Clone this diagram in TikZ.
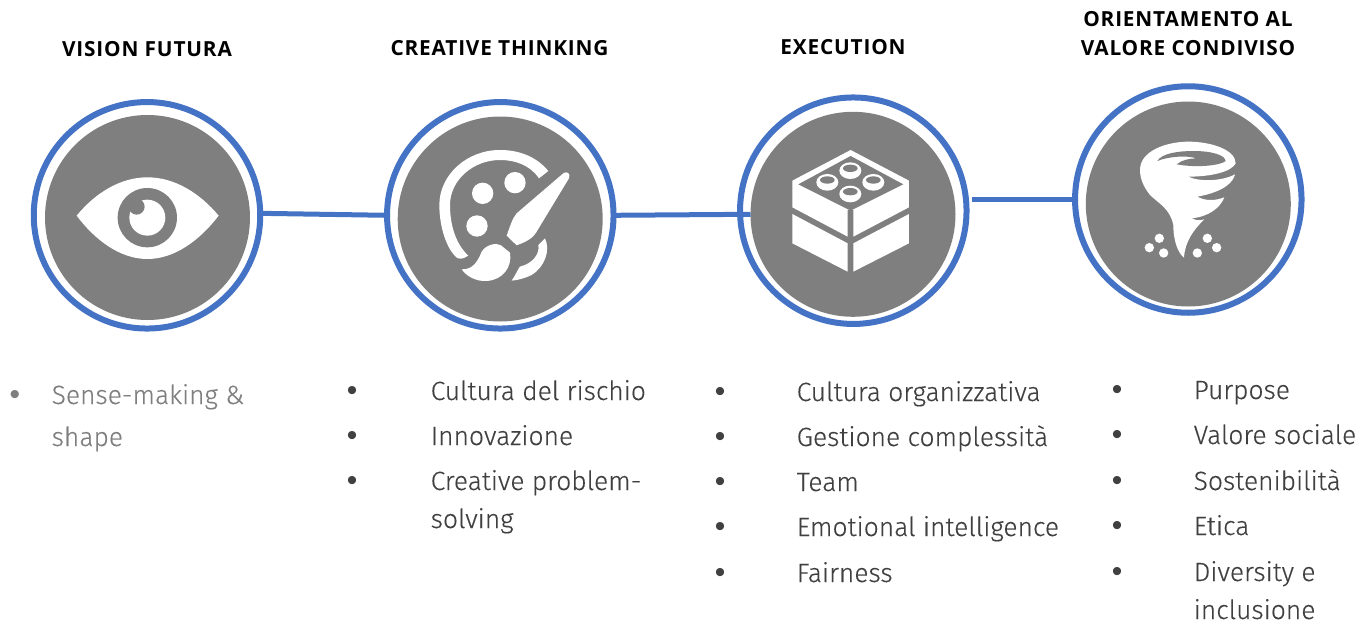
\documentclass[tikz,border=0pt]{standalone}
\usepackage{fontspec}
\setmainfont{Fira Sans}[UprightFont=* Light,UprightFeatures={FakeBold=0.25}]
\newfontfamily\headfont{Open Sans}[BoldFont=* Bold,LetterSpace=4]
\newfontfamily\dotfont{Liberation Sans}
\definecolor{ringblue}{HTML}{4472C4}
\definecolor{discgray}{HTML}{7F7F7F}
\definecolor{itemgray}{HTML}{404040}
\tikzset{
	ringnode/.style={circle,draw=ringblue,line width=6pt,minimum size=226.5pt,inner sep=0pt,outer sep=0pt},
	discnode/.style={circle,fill=discgray,minimum size=205pt,inner sep=0pt,outer sep=0pt},
	linkline/.style={ringblue,line width=5pt},
	headlabel/.style={font=\headfont\bfseries\fontsize{20.8}{20.8}\selectfont,text=black,anchor=base},
	itemlabel/.style={font=\fontsize{26.4}{26.4}\selectfont,text=itemgray,anchor=base west,inner sep=0pt},
	itemdot/.style={font=\dotfont\fontsize{30}{30}\selectfont,text=itemgray,anchor=base,inner sep=0pt},
	icon/.style={x=0.3333pt,y=-0.3333pt}
}
\begin{document}
\begin{tikzpicture}[x=1pt,y=-1pt]
	\useasboundingbox (0,0) rectangle (1363,624);
	% circles
	\node [ringnode] (visionring) at (147,215.3) {};\node [discnode] (visiondisc) at (147.5,217.5) {};
	\node [ringnode] (creativering) at (500.3,215.3) {};\node [discnode] (creativedisc) at (500.2,219) {};
	\node [ringnode] (executionring) at (853.3,210.7) {};\node [discnode] (executiondisc) at (853,214.3) {};
	\node [ringnode] (valorering) at (1188.3,199.5) {};\node [discnode] (valoredisc) at (1188.3,204) {};
	% links
	\coordinate (executionout) at (971.5,199.5);
	\draw [linkline] (visionring.1.5) -- (creativering.180);
	\draw [linkline] (creativering.0) -- (executiondisc.180);
	\draw [linkline] (executionout) -- (valorering.180);
	% eye
	\begin{scope}[shift={(20,90)},icon]
		\fill [white] (170,377) .. controls (225,310) and (300,262) .. (382,262) .. controls (465,262) and (540,310) .. (596,377) .. controls (540,450) and (465,507) .. (382,507) .. controls (300,507) and (225,450) .. (170,377) -- cycle;
		\fill [discgray] (382,383) circle [radius=89];
		\fill [white] (382,383) circle [radius=54];
		\fill [discgray] (350,350) circle [radius=24];
	\end{scope}
	% palette
	\begin{scope}[shift={(375,90)},icon]
		\fill [white] (520,243) .. controls (480,195) and (425,180) .. (375,180) .. controls (275,180) and (193,255) .. (193,345) .. controls (193,410) and (215,480) .. (248,505) .. controls (262,508) and (272,503) .. (280,497) .. controls (245,465) and (225,410) .. (225,345) .. controls (225,270) and (295,210) .. (375,210) .. controls (420,210) and (465,225) .. (492,265) -- cycle;
		\fill [white] (323,310) circle [radius=32];
		\fill [white] (420,278) circle [radius=32];
		\fill [white] (306,408) circle [radius=32];
		\fill [white] (565,250) -- (425,370) .. controls (412,385) and (405,410) .. (395,437) -- (425,466) .. controls (455,455) and (475,445) .. (488,420) -- (582,265) .. controls (588,250) and (575,242) .. (565,250) -- cycle;
		\fill [white] (260,538) .. controls (295,540) and (310,510) .. (320,485) .. controls (335,462) and (365,458) .. (378,466) -- (405,488) .. controls (412,530) and (385,570) .. (335,573) .. controls (305,575) and (275,560) .. (260,538) -- cycle;
		\fill [white] (510,445) .. controls (527,480) and (510,530) .. (470,555) .. controls (450,565) and (430,570) .. (410,572) .. controls (425,550) and (430,535) .. (435,530) .. controls (475,520) and (495,490) .. (490,465) -- cycle;
	\end{scope}
	% bricks
	\begin{scope}[shift={(730,90)},icon]
		\fill [white] (362,180) -- (537,272) -- (537,352) -- (370,440) -- (370,360) -- (353,360) -- (353,440) -- (187,352) -- (187,272) -- cycle;
		\fill [discgray] (362,198) -- (520,283) -- (362,362) -- (205,283) -- cycle;
		\fill [white] (187,372) -- (353,460) -- (353,545) -- (187,460) -- cycle;
		\fill [white] (370,460) -- (537,372) -- (537,460) -- (370,545) -- cycle;
		\fill [white] (361,242) ellipse [x radius=33,y radius=25];
		\fill [discgray] (361,235) ellipse [x radius=22,y radius=11];
		\fill [white] (292,277) ellipse [x radius=33,y radius=25];
		\fill [discgray] (292,270) ellipse [x radius=22,y radius=11];
		\fill [white] (430,277) ellipse [x radius=33,y radius=25];
		\fill [discgray] (430,270) ellipse [x radius=22,y radius=11];
		\fill [white] (361,312) ellipse [x radius=33,y radius=25];
		\fill [discgray] (361,305) ellipse [x radius=22,y radius=11];
	\end{scope}
	% tornado
	\begin{scope}[shift={(1065,75)},icon]
		\fill [white] (225,285) .. controls (225,225) and (310,200) .. (370,200) .. controls (440,200) and (512,225) .. (512,265) .. controls (500,290) and (440,305) .. (370,305) .. controls (400,320) and (470,320) .. (510,298) .. controls (505,320) and (480,350) .. (397,365) .. controls (420,378) and (450,378) .. (478,367) .. controls (465,400) and (430,425) .. (380,430) .. controls (395,437) and (405,437) .. (418,433) .. controls (385,465) and (360,500) .. (357,548) .. controls (340,535) and (325,500) .. (325,450) .. controls (315,400) and (280,385) .. (255,360) .. controls (235,335) and (225,310) .. (225,285) -- cycle;
		\fill [discgray] (277,258) .. controls (290,235) and (340,228) .. (385,228) .. controls (440,228) and (480,240) .. (482,258) .. controls (470,270) and (400,280) .. (335,268) .. controls (350,255) and (375,250) .. (395,250) .. controls (360,240) and (310,245) .. (277,258) -- cycle;
		\fill [white] (283,490) circle [radius=14];
		\fill [white] (253,518) circle [radius=14];
		\fill [white] (296,534) circle [radius=14];
		\fill [white] (427,490) circle [radius=14];
		\fill [white] (455,518) circle [radius=14];
		\fill [white] (397,534) circle [radius=14];
	\end{scope}
	% headings
	\node [headlabel] (visionhead) at (147,56) {VISION FUTURA};
	\node [headlabel] (creativehead) at (499.5,55) {CREATIVE THINKING};
	\node [headlabel] (executionhead) at (843,54) {EXECUTION};
	\node [headlabel] (valorehead1) at (1188,26) {ORIENTAMENTO AL};
	\node [headlabel] (valorehead2) at (1188,55) {VALORE CONDIVISO};
	% lists
	\node [itemdot,text=discgray] (visiondot1) at (15,404) {•};\node [itemlabel,text=discgray] (visionitem1) at (51.5,404) {Sense-making \&};
	\node [itemlabel,text=discgray] (visionitem2) at (51.5,446) {shape};
	\node [itemdot] (creativedot1) at (352,400) {•};\node [itemlabel] (creativeitem1) at (430.5,400) {Cultura del rischio};
	\node [itemdot] (creativedot2) at (352,445) {•};\node [itemlabel] (creativeitem2) at (430.5,445) {Innovazione};
	\node [itemdot] (creativedot3) at (352,490) {•};\node [itemlabel] (creativeitem3) at (430.5,490) {Creative problem-};
	\node [itemlabel] (creativeitem4) at (430.5,528) {solving};
	\node [itemdot] (executiondot1) at (720,401) {•};\node [itemlabel] (executionitem1) at (796.5,401) {Cultura organizzativa};
	\node [itemdot] (executiondot2) at (720,446) {•};\node [itemlabel] (executionitem2) at (796.5,446) {Gestione complessità};
	\node [itemdot] (executiondot3) at (720,491) {•};\node [itemlabel] (executionitem3) at (796.5,491) {Team};
	\node [itemdot] (executiondot4) at (720,536) {•};\node [itemlabel] (executionitem4) at (796.5,536) {Emotional intelligence};
	\node [itemdot] (executiondot5) at (720,582) {•};\node [itemlabel] (executionitem5) at (796.5,582) {Fairness};
	\node [itemdot] (valoredot1) at (1117,399) {•};\node [itemlabel] (valoreitem1) at (1193.5,399) {Purpose};
	\node [itemdot] (valoredot2) at (1117,444) {•};\node [itemlabel] (valoreitem2) at (1193.5,444) {Valore sociale};
	\node [itemdot] (valoredot3) at (1117,490) {•};\node [itemlabel] (valoreitem3) at (1193.5,490) {Sostenibilità};
	\node [itemdot] (valoredot4) at (1117,535) {•};\node [itemlabel] (valoreitem4) at (1193.5,535) {Etica};
	\node [itemdot] (valoredot5) at (1117,581) {•};\node [itemlabel] (valoreitem5) at (1193.5,581) {Diversity e};
	\node [itemlabel] (valoreitem6) at (1193.5,619) {inclusione};
\end{tikzpicture}
\end{document}
